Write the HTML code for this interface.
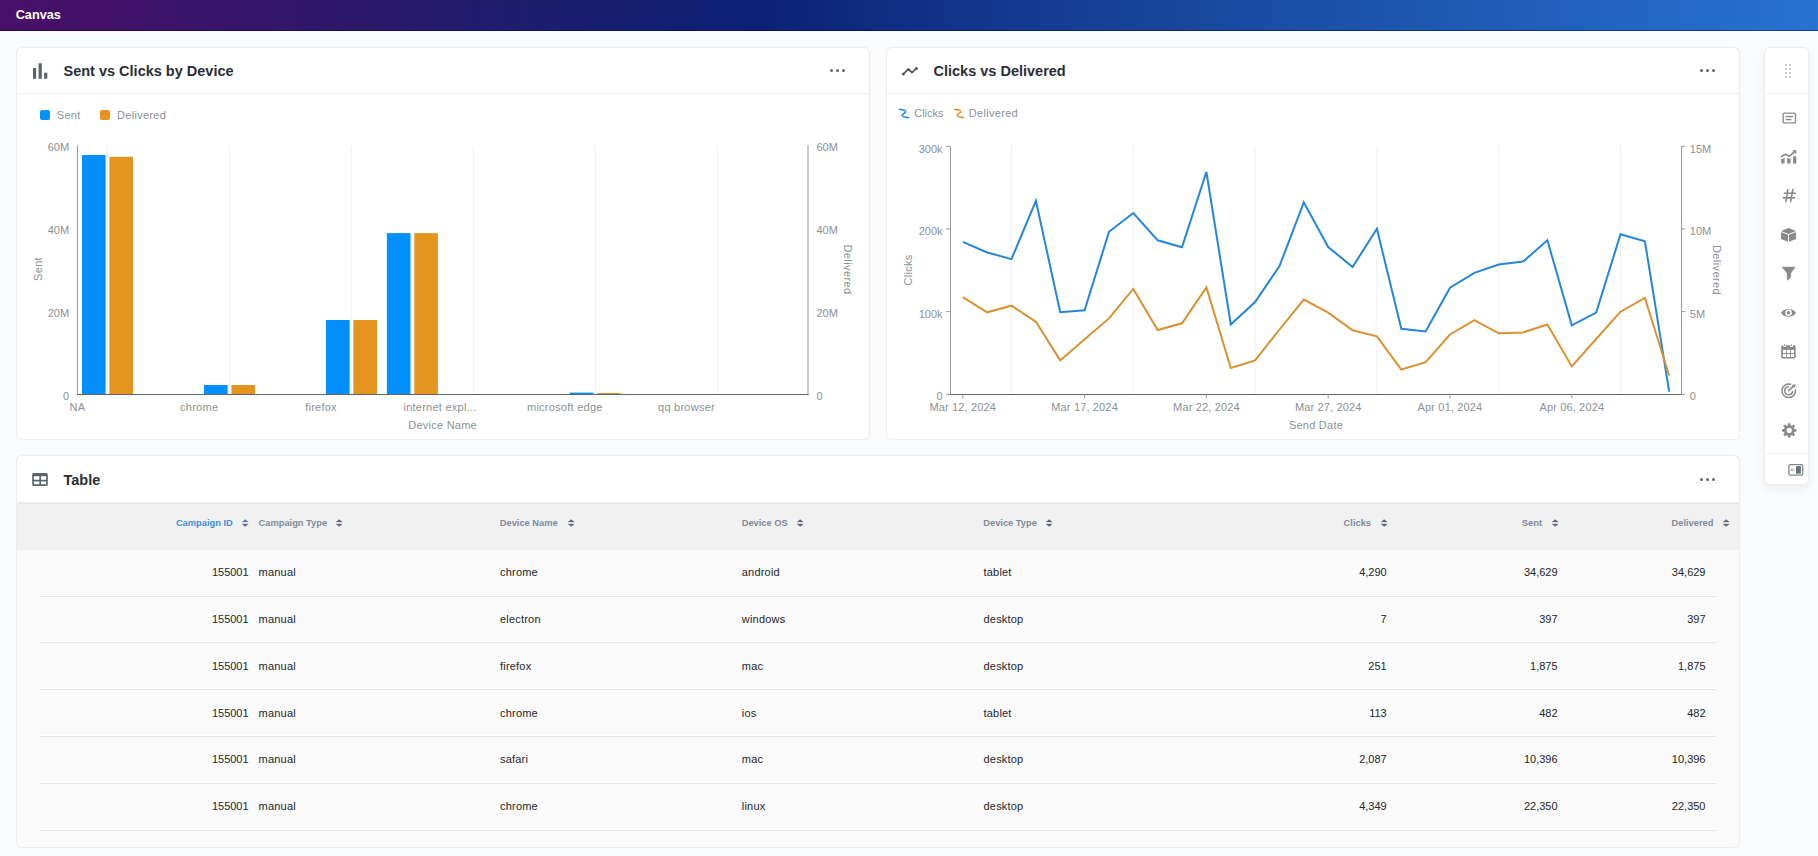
<!DOCTYPE html><html><head><meta charset="utf-8"><style>*{box-sizing:border-box;margin:0;padding:0}
html,body{width:1818px;height:856px;overflow:hidden}
body{background:#f9fbfc;font-family:"Liberation Sans",sans-serif;position:relative}
.abs{position:absolute}
#hdr{left:0;top:0;width:1818px;height:31px;background:linear-gradient(90deg,#4a1068 0%,#301669 16.5%,#171e6f 33%,#0b2277 42.4%,#13388f 55%,#1c4fa6 71.5%,#2263c0 88%,#2773d2 100%);border-bottom:1px solid rgba(0,0,30,.45)}
#hdr span{position:absolute;left:15.7px;top:6.9px;color:#fff;font-weight:bold;font-size:12.7px;line-height:16px}
.card{position:absolute;background:#fff;border:1px solid #ecedef;border-radius:6px;box-shadow:0 0 2px rgba(40,50,70,.04)}
.ttl{position:absolute;font-weight:bold;font-size:14.5px;line-height:18px;color:#2a2e35;white-space:nowrap}
.sep{position:absolute;height:1px;background:#eceef0}
.dots{position:absolute;width:16px;height:4px}
.dots i{position:absolute;top:0.2px;width:3.3px;height:3.3px;border-radius:50%;background:#63686b}
.t{position:absolute;white-space:nowrap;font-size:11px;line-height:13px;color:#8b9095}
.r{text-align:right}
.c{text-align:center}
svg{position:absolute;left:0;top:0}
.lg{position:absolute;font-size:11px;line-height:13px;color:#8b9095;white-space:nowrap;letter-spacing:0.3px}
.sq{position:absolute;width:10px;height:10px;border-radius:2px}
.ic{position:absolute}
.th{position:absolute;white-space:nowrap;font-size:9.3px;line-height:12px;font-weight:bold}
.td{position:absolute;white-space:nowrap;font-size:11px;line-height:13px;color:#23262a}
.tw{letter-spacing:0.2px}
</style></head><body>
<div id="hdr" class="abs"><span>Canvas</span></div>

<!-- card 1 -->
<div class="card" style="left:16px;top:47px;width:854px;height:393px"></div>
<div class="sep" style="left:17px;top:93px;width:852px"></div>
<div class="ttl" style="left:63.5px;top:62px">Sent vs Clicks by Device</div>
<div class="dots" style="left:830px;top:69px"><i style="left:0"></i><i style="left:6px"></i><i style="left:12px"></i></div>
<div class="sq" style="left:40px;top:110.3px;background:#0592fb"></div>
<div class="lg" style="left:56.8px;top:108.5px">Sent</div>
<div class="sq" style="left:100.2px;top:110.3px;background:#e3951f"></div>
<div class="lg" style="left:117px;top:108.5px">Delivered</div>

<!-- card 2 -->
<div class="card" style="left:886px;top:47px;width:854px;height:393px"></div>
<div class="sep" style="left:887px;top:93px;width:852px"></div>
<div class="ttl" style="left:933.5px;top:62px">Clicks vs Delivered</div>
<div class="dots" style="left:1700px;top:69px"><i style="left:0"></i><i style="left:6px"></i><i style="left:12px"></i></div>
<div class="lg" style="left:914.2px;top:106.5px;letter-spacing:0">Clicks</div>
<div class="lg" style="left:968.8px;top:106.5px">Delivered</div>

<!-- table card -->
<div class="card" style="left:16px;top:455px;width:1724px;height:393px"></div>
<div class="ttl" style="left:63.5px;top:471px">Table</div>
<div class="dots" style="left:1700px;top:478px"><i style="left:0"></i><i style="left:6px"></i><i style="left:12px"></i></div>

<!-- sidebar -->
<div class="card" style="left:1763.5px;top:46.8px;width:45.8px;height:438.5px;box-shadow:0 4px 10px rgba(0,0,0,.06)"></div>

<!-- card header icons -->
<svg class="ic" style="left:0;top:0" width="1818" height="500" viewBox="0 0 1818 500">
  <g fill="#5b6467">
    <rect x="33" y="68" width="3.1" height="10.8"/>
    <rect x="38.6" y="63.2" width="3.2" height="15.6"/>
    <rect x="44.1" y="72.7" width="3.2" height="6.1"/>
  </g>
  <polyline points="903.3,74.2 908.4,68.8 912,72.7 916.4,68.4" fill="none" stroke="#52595c" stroke-width="1.7" stroke-linecap="round" stroke-linejoin="round"/><circle cx="903.3" cy="74.2" r="1.35" fill="#52595c"/><circle cx="916.4" cy="68.4" r="1.5" fill="#52595c"/>
  <g fill="none" stroke="#5b6568" stroke-width="1.7">
    <rect x="33.05" y="473.85" width="13.9" height="11.3" rx="1"/>
    <line x1="40.2" y1="476" x2="40.2" y2="485"/>
    <line x1="33" y1="480.6" x2="47" y2="480.6"/>
  </g>
  <rect x="33" y="473" width="14" height="3.2" fill="#5b6568"/>
  <path d="M899.6 109.6 C903.2 109.4 906 110.3 905.6 112 C905.2 113.6 901.6 114 902.1 115.6 C902.6 117.1 905.6 116.9 908.5 117.6" fill="none" stroke="#1a88e6" stroke-width="1.5" stroke-linecap="round"/>
  <path d="M954.6 109.6 C958.2 109.4 961 110.3 960.6 112 C960.2 113.6 956.6 114 957.1 115.6 C957.6 117.1 960.6 116.9 963.5 117.6" fill="none" stroke="#dc8d22" stroke-width="1.5" stroke-linecap="round"/>
</svg>

<!-- sidebar icons -->
<div class="sep" style="left:1764px;top:93px;width:44px"></div>
<div class="sep" style="left:1764px;top:452.5px;width:44px"></div>
<svg class="ic" style="left:1763px;top:47px" width="46" height="438" viewBox="1763 47 46 438">
  <g fill="#a0a3a6">
    <rect x="1785.2" y="64.2" width="1.5" height="1.5"/><rect x="1789.1" y="64.2" width="1.5" height="1.5"/>
    <rect x="1785.2" y="68.2" width="1.5" height="1.5"/><rect x="1789.1" y="68.2" width="1.5" height="1.5"/>
    <rect x="1785.2" y="72.2" width="1.5" height="1.5"/><rect x="1789.1" y="72.2" width="1.5" height="1.5"/>
    <rect x="1785.2" y="76.2" width="1.5" height="1.5"/><rect x="1789.1" y="76.2" width="1.5" height="1.5"/>
  </g>
  <g fill="none" stroke="#8a8a8a" stroke-width="1.4">
    <rect x="1783.1" y="113.1" width="12.4" height="9.8" rx="1.2"/>
    <line x1="1785.6" y1="116.6" x2="1793" y2="116.6"/>
    <line x1="1785.6" y1="119.6" x2="1791.5" y2="119.6"/>
  </g>
  <!-- chart icon -->
  <g fill="#8a8a8a">
    <path d="M1781.2 159.2 L1784.6 157.9 L1784.6 163.6 L1781.2 163.6 Z"/>
    <path d="M1787.1 158.1 L1790.6 159.1 L1790.6 163.6 L1787.1 163.6 Z"/>
    <rect x="1793.1" y="156.3" width="3.2" height="7.3"/>
    <path d="M1792 150.2 L1796.3 150.2 L1796.3 154 Z"/>
  </g>
  <polyline points="1781.6,156.5 1785.4,154.3 1789.4,156.3 1795,151.1" fill="none" stroke="#8a8a8a" stroke-width="1.6" stroke-linecap="round" stroke-linejoin="round"/>
  <!-- hash -->
  <g stroke="#8a8a8a" stroke-width="1.6" stroke-linecap="round">
    <line x1="1787.8" y1="189.5" x2="1785.8" y2="201.6"/>
    <line x1="1792.8" y1="189.5" x2="1790.6" y2="201.6"/>
    <line x1="1784.4" y1="193.3" x2="1795.4" y2="193.3"/>
    <line x1="1783.4" y1="197.9" x2="1794.2" y2="197.9"/>
  </g>
  <!-- cube -->
  <g fill="#8a8a8a">
    <path d="M1788.5 228 L1796 231 L1788.5 233.9 L1781 231 Z"/>
    <path d="M1781 231.9 L1788 234.7 L1788 241.8 L1781 239.1 Z"/>
    <path d="M1796 231.9 L1789 234.7 L1789 241.8 L1796 239.1 Z"/>
  </g>
  <!-- funnel -->
  <path d="M1781.9 267 L1795.3 267 L1790.9 273.1 L1790.8 277.5 L1787.2 280.6 L1787 273.1 Z" fill="#8a8a8a" stroke="#8a8a8a" stroke-width="0.4" stroke-linejoin="round"/>
  <!-- eye -->
  <path d="M1781 312.8 C1783.5 307.6 1793.5 307.6 1796 312.8 C1793.5 318 1783.5 318 1781 312.8 Z" fill="#8a8a8a"/>
  <circle cx="1788.5" cy="312.8" r="3.3" fill="#fff"/>
  <circle cx="1788.5" cy="312.8" r="1.8" fill="#8a8a8a"/>
  <!-- calendar -->
  <rect x="1781.2" y="345.2" width="14.4" height="13.4" rx="1.5" fill="#8a8a8a"/>
  <g fill="#fff">
    <rect x="1782.9" y="349.9" width="3.2" height="3.1"/><rect x="1786.9" y="349.9" width="3.1" height="3.1"/><rect x="1790.9" y="349.9" width="3.1" height="3.1"/>
    <rect x="1782.9" y="354" width="3.2" height="3"/><rect x="1786.9" y="354" width="3.1" height="3"/><rect x="1790.9" y="354" width="3.1" height="3"/>
    <rect x="1783.3" y="344.5" width="2.8" height="2.6" rx="1.2"/><rect x="1790.2" y="344.5" width="2.8" height="2.6" rx="1.2"/>
  </g>
  <g fill="#8a8a8a"><rect x="1784.3" y="344.2" width="0.9" height="1.8"/><rect x="1791.2" y="344.2" width="0.9" height="1.8"/></g>
  <!-- target -->
  <g fill="none" stroke="#8a8a8a" stroke-width="1.5" stroke-linecap="round">
    <path d="M1790.6 384.2 A6.8 6.8 0 1 0 1795.5 389.8"/>
    <path d="M1788.2 386.7 A4 4 0 1 0 1792.6 391.7"/>
    <line x1="1788.6" y1="390.9" x2="1793.6" y2="385.9"/>
  </g>
  <path d="M1792.2 384.9 L1795.6 384 L1794.9 387.4 L1793.2 387.6 L1792.6 386.5 Z" fill="#8a8a8a"/>
  <!-- gear -->
  <g fill="#8a8a8a">
    <circle cx="1789.2" cy="430.4" r="5.3"/>
    <rect x="1787.9" y="423.2" width="2.6" height="14.4" rx="0.4" transform="rotate(0 1789.2 430.4)"/>
    <rect x="1787.9" y="423.2" width="2.6" height="14.4" rx="0.4" transform="rotate(45 1789.2 430.4)"/>
    <rect x="1787.9" y="423.2" width="2.6" height="14.4" rx="0.4" transform="rotate(90 1789.2 430.4)"/>
    <rect x="1787.9" y="423.2" width="2.6" height="14.4" rx="0.4" transform="rotate(135 1789.2 430.4)"/>
  </g>
  <circle cx="1789.2" cy="430.4" r="2.6" fill="#fff"/>
  <!-- panel toggle -->
  <rect x="1788.9" y="464.6" width="13.8" height="10.6" rx="1.6" fill="none" stroke="#7f8a8c" stroke-width="1.3"/>
  <rect x="1796" y="466.1" width="4.9" height="7.6" fill="#66777a"/>
  <path d="M1790.3 469.9 L1792.3 468.1 L1792.3 471.7 Z" fill="#9aa3a5"/>
  <rect x="1792" y="469.4" width="2.3" height="1" fill="#9aa3a5"/>
</svg>

<svg width="1818" height="856" viewBox="0 0 1818 856" font-family="Liberation Sans, sans-serif"><rect x="106.9" y="146.0" width="1" height="248.0" fill="#f0f1f1"/><rect x="228.9" y="146.0" width="1" height="248.0" fill="#f0f1f1"/><rect x="350.9" y="146.0" width="1" height="248.0" fill="#f0f1f1"/><rect x="472.9" y="146.0" width="1" height="248.0" fill="#f0f1f1"/><rect x="594.9" y="146.0" width="1" height="248.0" fill="#f0f1f1"/><rect x="716.9" y="146.0" width="1" height="248.0" fill="#f0f1f1"/><rect x="82.0" y="155.0" width="23.6" height="239.0" fill="#0190fd"/><rect x="109.4" y="156.8" width="23.6" height="237.2" fill="#e3951f"/><rect x="204.0" y="385.0" width="23.6" height="9.0" fill="#0190fd"/><rect x="231.4" y="385.0" width="23.6" height="9.0" fill="#e3951f"/><rect x="326.0" y="320.0" width="23.6" height="74.0" fill="#0190fd"/><rect x="353.4" y="320.0" width="23.6" height="74.0" fill="#e3951f"/><rect x="386.9" y="233.1" width="23.6" height="160.9" fill="#0190fd"/><rect x="414.29999999999995" y="233.1" width="23.6" height="160.9" fill="#e3951f"/><rect x="569.7" y="392.6" width="23.6" height="1.3999999999999773" fill="#0190fd"/><rect x="597.1" y="393.0" width="23.6" height="1.0" fill="#e3951f"/><rect x="77" y="145.2" width="1" height="249.5" fill="#959c9d"/><rect x="807.5" y="145.2" width="1" height="249.5" fill="#959c9d"/><rect x="77" y="394" width="731.5" height="1" fill="#5f6567"/><text x="69.1" y="399.9" text-anchor="end" font-size="11" fill="#8b9095" >0</text><text x="816.4" y="399.9" text-anchor="start" font-size="11" fill="#8b9095" >0</text><text x="69.1" y="316.9" text-anchor="end" font-size="11" fill="#8b9095" >20M</text><text x="816.4" y="316.9" text-anchor="start" font-size="11" fill="#8b9095" >20M</text><text x="69.1" y="233.8" text-anchor="end" font-size="11" fill="#8b9095" >40M</text><text x="816.4" y="233.8" text-anchor="start" font-size="11" fill="#8b9095" >40M</text><text x="69.1" y="150.8" text-anchor="end" font-size="11" fill="#8b9095" >60M</text><text x="816.4" y="150.8" text-anchor="start" font-size="11" fill="#8b9095" >60M</text><text x="77.4" y="411.4" text-anchor="middle" font-size="11" fill="#8b9095" letter-spacing="0.25">NA</text><text x="199.2" y="411.4" text-anchor="middle" font-size="11" fill="#8b9095" letter-spacing="0.25">chrome</text><text x="321.0" y="411.4" text-anchor="middle" font-size="11" fill="#8b9095" letter-spacing="0.25">firefox</text><text x="440.0" y="411.4" text-anchor="middle" font-size="11" fill="#8b9095" letter-spacing="0.25">internet expl...</text><text x="564.8" y="411.4" text-anchor="middle" font-size="11" fill="#8b9095" letter-spacing="0.25">microsoft edge</text><text x="686.5" y="411.4" text-anchor="middle" font-size="11" fill="#8b9095" letter-spacing="0.25">qq browser</text><text x="442.6" y="429.4" text-anchor="middle" font-size="11" fill="#8b9095" letter-spacing="0.25">Device Name</text><text transform="translate(42,269) rotate(-90)" text-anchor="middle" font-size="11" letter-spacing="0.3" fill="#8b9095">Sent</text><text transform="translate(843.6,269.5) rotate(90)" text-anchor="middle" font-size="11" letter-spacing="0.4" fill="#8b9095">Delivered</text><rect x="1011.0" y="146.3" width="1" height="248.0" fill="#f0f1f1"/><rect x="1132.8" y="146.3" width="1" height="248.0" fill="#f0f1f1"/><rect x="1254.6" y="146.3" width="1" height="248.0" fill="#f0f1f1"/><rect x="1376.4" y="146.3" width="1" height="248.0" fill="#f0f1f1"/><rect x="1498.2" y="146.3" width="1" height="248.0" fill="#f0f1f1"/><rect x="1620.0" y="146.3" width="1" height="248.0" fill="#f0f1f1"/><polyline points="962.8,241.8 987.2,252.5 1011.5,259.1 1035.9,200.8 1060.2,312.3 1084.6,310.2 1109.0,231.8 1133.3,213.0 1157.7,240.3 1182.0,247.3 1206.4,171.9 1230.8,324.5 1255.1,302.0 1279.5,266.1 1303.8,202.3 1328.2,247.0 1352.6,267.0 1376.9,228.8 1401.3,328.8 1425.6,331.5 1450.0,287.7 1474.4,272.8 1498.7,264.6 1523.1,261.6 1547.4,240.3 1571.8,325.4 1596.2,312.6 1620.5,234.2 1644.9,241.2 1669.2,391.6" fill="none" stroke="#2386dc" stroke-width="2" stroke-linejoin="miter" stroke-miterlimit="4"/><polyline points="962.8,297.1 987.2,312.3 1011.5,305.7 1035.9,321.8 1060.2,360.4 1084.6,339.2 1109.0,318.4 1133.3,288.9 1157.7,330.0 1182.0,323.3 1206.4,287.4 1230.8,368.0 1255.1,360.4 1279.5,329.5 1303.8,299.6 1328.2,312.6 1352.6,330.3 1376.9,336.4 1401.3,369.5 1425.6,362.2 1450.0,334.5 1474.4,320.2 1498.7,333.3 1523.1,332.4 1547.4,324.5 1571.8,366.4 1596.2,339.0 1620.5,311.7 1644.9,298.0 1669.2,375.5" fill="none" stroke="#da9130" stroke-width="2" stroke-linejoin="miter" stroke-miterlimit="4"/><rect x="950" y="146" width="1" height="248.5" fill="#959c9d"/><rect x="1681" y="146" width="1" height="248.5" fill="#959c9d"/><rect x="950" y="394" width="732" height="1" fill="#5f6567"/><rect x="946" y="393.8" width="4.5" height="1" fill="#959c9d"/><rect x="1681.5" y="393.8" width="3.8" height="1" fill="#959c9d"/><text x="942.6" y="399.9" text-anchor="end" font-size="11" fill="#8b9095" >0</text><text x="1689.8" y="399.9" text-anchor="start" font-size="11" fill="#8b9095" >0</text><rect x="946" y="311.1" width="4.5" height="1" fill="#959c9d"/><rect x="1681.5" y="311.1" width="3.8" height="1" fill="#959c9d"/><text x="942.6" y="317.6" text-anchor="end" font-size="11" fill="#8b9095" >100k</text><text x="1689.8" y="317.6" text-anchor="start" font-size="11" fill="#8b9095" >5M</text><rect x="946" y="228.5" width="4.5" height="1" fill="#959c9d"/><rect x="1681.5" y="228.5" width="3.8" height="1" fill="#959c9d"/><text x="942.6" y="235.0" text-anchor="end" font-size="11" fill="#8b9095" >200k</text><text x="1689.8" y="235.0" text-anchor="start" font-size="11" fill="#8b9095" >10M</text><rect x="946" y="145.8" width="4.5" height="1" fill="#959c9d"/><rect x="1681.5" y="145.8" width="3.8" height="1" fill="#959c9d"/><text x="942.6" y="152.8" text-anchor="end" font-size="11" fill="#8b9095" >300k</text><text x="1689.8" y="152.8" text-anchor="start" font-size="11" fill="#8b9095" >15M</text><rect x="962.3" y="394.3" width="1" height="4" fill="#959c9d"/><text x="962.8" y="411.4" text-anchor="middle" font-size="11" fill="#8b9095" letter-spacing="0.15">Mar 12, 2024</text><rect x="1084.1" y="394.3" width="1" height="4" fill="#959c9d"/><text x="1084.6" y="411.4" text-anchor="middle" font-size="11" fill="#8b9095" letter-spacing="0.15">Mar 17, 2024</text><rect x="1205.9" y="394.3" width="1" height="4" fill="#959c9d"/><text x="1206.4" y="411.4" text-anchor="middle" font-size="11" fill="#8b9095" letter-spacing="0.15">Mar 22, 2024</text><rect x="1327.7" y="394.3" width="1" height="4" fill="#959c9d"/><text x="1328.2" y="411.4" text-anchor="middle" font-size="11" fill="#8b9095" letter-spacing="0.15">Mar 27, 2024</text><rect x="1449.5" y="394.3" width="1" height="4" fill="#959c9d"/><text x="1450.0" y="411.4" text-anchor="middle" font-size="11" fill="#8b9095" letter-spacing="0.15">Apr 01, 2024</text><rect x="1571.3" y="394.3" width="1" height="4" fill="#959c9d"/><text x="1571.8" y="411.4" text-anchor="middle" font-size="11" fill="#8b9095" letter-spacing="0.15">Apr 06, 2024</text><text x="1316" y="429.4" text-anchor="middle" font-size="11" fill="#8b9095" letter-spacing="0.25">Send Date</text><text transform="translate(912,270) rotate(-90)" text-anchor="middle" font-size="11" letter-spacing="0.3" fill="#8b9095">Clicks</text><text transform="translate(1713.3,270) rotate(90)" text-anchor="middle" font-size="11" letter-spacing="0.4" fill="#8b9095">Delivered</text></svg>
<div class="abs" style="left:17px;top:501.5px;width:1722px;height:2px;background:linear-gradient(#f3f3f3,#e3e3e3)"></div>
<div class="abs" style="left:17px;top:503.5px;width:1722px;height:46.5px;background:#f1f1f1"></div>
<div class="abs" style="left:17px;top:550px;width:1722px;height:297px;background:#fafafa;border-radius:0 0 5px 5px"></div>
<div class="abs" style="left:40px;top:595.0px;width:1676px;height:1px;background:#ffffff"></div>
<div class="abs" style="left:40px;top:596.0px;width:1676px;height:1px;background:#e5e5e5"></div>
<div class="abs" style="left:40px;top:641.0px;width:1676px;height:1px;background:#ffffff"></div>
<div class="abs" style="left:40px;top:642.0px;width:1676px;height:1px;background:#e5e5e5"></div>
<div class="abs" style="left:40px;top:688.0px;width:1676px;height:1px;background:#ffffff"></div>
<div class="abs" style="left:40px;top:689.0px;width:1676px;height:1px;background:#e5e5e5"></div>
<div class="abs" style="left:40px;top:735.0px;width:1676px;height:1px;background:#ffffff"></div>
<div class="abs" style="left:40px;top:736.0px;width:1676px;height:1px;background:#e5e5e5"></div>
<div class="abs" style="left:40px;top:782.0px;width:1676px;height:1px;background:#ffffff"></div>
<div class="abs" style="left:40px;top:783.0px;width:1676px;height:1px;background:#e5e5e5"></div>
<div class="abs" style="left:40px;top:829.0px;width:1676px;height:1px;background:#ffffff"></div>
<div class="abs" style="left:40px;top:830.0px;width:1676px;height:1px;background:#e5e5e5"></div>
<div class="th" style="right:1585.3px;top:516.5px;color:#3d8fdc">Campaign ID</div>
<svg class="ic" style="left:242.3px;top:518.6px" width="7" height="8" viewBox="0 0 7 8"><path d="M3.2 0.5 L6.2 3.0 L0.2 3.0 Z" fill="#4a78c0" stroke="#4a78c0" stroke-width="0.3" stroke-linejoin="round"/><path d="M3.2 7.6 L6.2 5.1 L0.2 5.1 Z" fill="#5a6275" stroke="#5a6275" stroke-width="0.3" stroke-linejoin="round"/></svg>
<div class="th" style="left:258.6px;top:516.5px;color:#80899c">Campaign Type</div>
<svg class="ic" style="left:335.9px;top:518.6px" width="7" height="8" viewBox="0 0 7 8"><path d="M3.2 0.5 L6.2 3.0 L0.2 3.0 Z" fill="#5a6275" stroke="#5a6275" stroke-width="0.3" stroke-linejoin="round"/><path d="M3.2 7.6 L6.2 5.1 L0.2 5.1 Z" fill="#5a6275" stroke="#5a6275" stroke-width="0.3" stroke-linejoin="round"/></svg>
<div class="th" style="left:499.8px;top:516.5px;color:#80899c">Device Name</div>
<svg class="ic" style="left:567.8px;top:518.6px" width="7" height="8" viewBox="0 0 7 8"><path d="M3.2 0.5 L6.2 3.0 L0.2 3.0 Z" fill="#5a6275" stroke="#5a6275" stroke-width="0.3" stroke-linejoin="round"/><path d="M3.2 7.6 L6.2 5.1 L0.2 5.1 Z" fill="#5a6275" stroke="#5a6275" stroke-width="0.3" stroke-linejoin="round"/></svg>
<div class="th" style="left:741.7px;top:516.5px;color:#80899c">Device OS</div>
<svg class="ic" style="left:797.1px;top:518.6px" width="7" height="8" viewBox="0 0 7 8"><path d="M3.2 0.5 L6.2 3.0 L0.2 3.0 Z" fill="#5a6275" stroke="#5a6275" stroke-width="0.3" stroke-linejoin="round"/><path d="M3.2 7.6 L6.2 5.1 L0.2 5.1 Z" fill="#5a6275" stroke="#5a6275" stroke-width="0.3" stroke-linejoin="round"/></svg>
<div class="th" style="left:983.3px;top:516.5px;color:#80899c">Device Type</div>
<svg class="ic" style="left:1045.6px;top:518.6px" width="7" height="8" viewBox="0 0 7 8"><path d="M3.2 0.5 L6.2 3.0 L0.2 3.0 Z" fill="#5a6275" stroke="#5a6275" stroke-width="0.3" stroke-linejoin="round"/><path d="M3.2 7.6 L6.2 5.1 L0.2 5.1 Z" fill="#5a6275" stroke="#5a6275" stroke-width="0.3" stroke-linejoin="round"/></svg>
<div class="th" style="right:447.0px;top:516.5px;color:#80899c">Clicks</div>
<svg class="ic" style="left:1380.5px;top:518.6px" width="7" height="8" viewBox="0 0 7 8"><path d="M3.2 0.5 L6.2 3.0 L0.2 3.0 Z" fill="#5a6275" stroke="#5a6275" stroke-width="0.3" stroke-linejoin="round"/><path d="M3.2 7.6 L6.2 5.1 L0.2 5.1 Z" fill="#5a6275" stroke="#5a6275" stroke-width="0.3" stroke-linejoin="round"/></svg>
<div class="th" style="right:276.0px;top:516.5px;color:#80899c">Sent</div>
<svg class="ic" style="left:1552.1px;top:518.6px" width="7" height="8" viewBox="0 0 7 8"><path d="M3.2 0.5 L6.2 3.0 L0.2 3.0 Z" fill="#5a6275" stroke="#5a6275" stroke-width="0.3" stroke-linejoin="round"/><path d="M3.2 7.6 L6.2 5.1 L0.2 5.1 Z" fill="#5a6275" stroke="#5a6275" stroke-width="0.3" stroke-linejoin="round"/></svg>
<div class="th" style="right:104.6px;top:516.5px;color:#80899c">Delivered</div>
<svg class="ic" style="left:1722.9px;top:518.6px" width="7" height="8" viewBox="0 0 7 8"><path d="M3.2 0.5 L6.2 3.0 L0.2 3.0 Z" fill="#5a6275" stroke="#5a6275" stroke-width="0.3" stroke-linejoin="round"/><path d="M3.2 7.6 L6.2 5.1 L0.2 5.1 Z" fill="#5a6275" stroke="#5a6275" stroke-width="0.3" stroke-linejoin="round"/></svg>
<div class="td" style="right:1569.4px;top:565.9px">155001</div>
<div class="td tw" style="left:258.6px;top:565.9px">manual</div>
<div class="td tw" style="left:500px;top:565.9px">chrome</div>
<div class="td tw" style="left:741.8px;top:565.9px">android</div>
<div class="td tw" style="left:983.5px;top:565.9px">tablet</div>
<div class="td" style="right:431.3px;top:565.9px">4,290</div>
<div class="td" style="right:260.4px;top:565.9px">34,629</div>
<div class="td" style="right:112.5px;top:565.9px">34,629</div>
<div class="td" style="right:1569.4px;top:612.8px">155001</div>
<div class="td tw" style="left:258.6px;top:612.8px">manual</div>
<div class="td tw" style="left:500px;top:612.8px">electron</div>
<div class="td tw" style="left:741.8px;top:612.8px">windows</div>
<div class="td tw" style="left:983.5px;top:612.8px">desktop</div>
<div class="td" style="right:431.3px;top:612.8px">7</div>
<div class="td" style="right:260.4px;top:612.8px">397</div>
<div class="td" style="right:112.5px;top:612.8px">397</div>
<div class="td" style="right:1569.4px;top:659.6px">155001</div>
<div class="td tw" style="left:258.6px;top:659.6px">manual</div>
<div class="td tw" style="left:500px;top:659.6px">firefox</div>
<div class="td tw" style="left:741.8px;top:659.6px">mac</div>
<div class="td tw" style="left:983.5px;top:659.6px">desktop</div>
<div class="td" style="right:431.3px;top:659.6px">251</div>
<div class="td" style="right:260.4px;top:659.6px">1,875</div>
<div class="td" style="right:112.5px;top:659.6px">1,875</div>
<div class="td" style="right:1569.4px;top:706.5px">155001</div>
<div class="td tw" style="left:258.6px;top:706.5px">manual</div>
<div class="td tw" style="left:500px;top:706.5px">chrome</div>
<div class="td tw" style="left:741.8px;top:706.5px">ios</div>
<div class="td tw" style="left:983.5px;top:706.5px">tablet</div>
<div class="td" style="right:431.3px;top:706.5px">113</div>
<div class="td" style="right:260.4px;top:706.5px">482</div>
<div class="td" style="right:112.5px;top:706.5px">482</div>
<div class="td" style="right:1569.4px;top:753.2px">155001</div>
<div class="td tw" style="left:258.6px;top:753.2px">manual</div>
<div class="td tw" style="left:500px;top:753.2px">safari</div>
<div class="td tw" style="left:741.8px;top:753.2px">mac</div>
<div class="td tw" style="left:983.5px;top:753.2px">desktop</div>
<div class="td" style="right:431.3px;top:753.2px">2,087</div>
<div class="td" style="right:260.4px;top:753.2px">10,396</div>
<div class="td" style="right:112.5px;top:753.2px">10,396</div>
<div class="td" style="right:1569.4px;top:800.0px">155001</div>
<div class="td tw" style="left:258.6px;top:800.0px">manual</div>
<div class="td tw" style="left:500px;top:800.0px">chrome</div>
<div class="td tw" style="left:741.8px;top:800.0px">linux</div>
<div class="td tw" style="left:983.5px;top:800.0px">desktop</div>
<div class="td" style="right:431.3px;top:800.0px">4,349</div>
<div class="td" style="right:260.4px;top:800.0px">22,350</div>
<div class="td" style="right:112.5px;top:800.0px">22,350</div>
</body></html>
